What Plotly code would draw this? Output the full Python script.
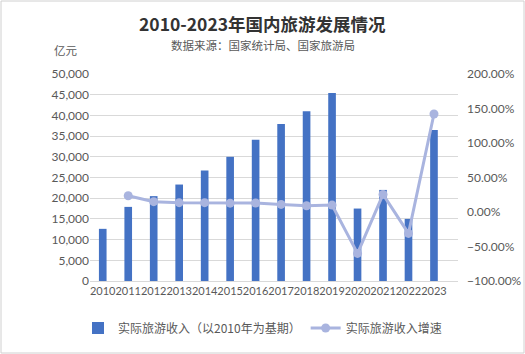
import plotly.graph_objects as go

years = ["2010", "2011", "2012", "2013", "2014", "2015", "2016", "2017", "2018", "2019", "2020", "2021", "2022", "2023"]
income = [12600, 17900, 20500, 23300, 26700, 30000, 34100, 37900, 41000, 45400, 17500, 22000, 15000, 36500]
growth_years = years[1:]
growth = [23.5, 15.0, 13.5, 13.5, 12.8, 13.0, 11.0, 9.0, 10.0, -60.0, 25.5, -31.0, 142.0]

W, H = 525, 354
ML, MR, MT, MB = 90, 67, 74, 73
PW, PH = W - ML - MR, H - MT - MB

font_cn = "Noto Sans CJK SC, Noto Sans, sans-serif"
font_num = "Lato, Open Sans, sans-serif"
gray = "#595959"

fig = go.Figure()
fig.add_trace(go.Bar(
    x=years, y=income, name="实际旅游收入（以2010年为基期）",
    marker=dict(color="#4472C4", line=dict(width=0)),
    yaxis="y",
))
fig.add_trace(go.Scatter(
    x=growth_years, y=growth, name="实际旅游收入增速",
    mode="lines+markers",
    line=dict(color="#A9B4DF", width=3),
    marker=dict(color="#A9B4DF", size=9),
    yaxis="y2",
))

fig.update_layout(
    width=W, height=H,
    margin=dict(l=ML, r=MR, t=MT, b=MB, autoexpand=False),
    paper_bgcolor="white", plot_bgcolor="white",
    font=dict(family=font_cn, size=11, color=gray),
    bargap=0.7,
    showlegend=True,
    legend=dict(orientation="h", xref="container", yref="paper",
                x=0.5, xanchor="center", y=-(328 - MT - PH) / PH, yanchor="middle",
                font=dict(size=12, color=gray), itemwidth=30),
    xaxis=dict(type="category", showgrid=False, showline=True, linecolor="#D9D9D9",
               ticks="", tickangle=0, automargin=False,
               tickfont=dict(size=11, color=gray, family=font_num)),
    yaxis=dict(range=[0, 50000], dtick=5000, tickformat=",", showgrid=True,
               gridcolor="#D9D9D9", zeroline=False, ticks="", automargin=False,
               tickfont=dict(size=12, color=gray, family=font_num)),
    yaxis2=dict(range=[-100, 200], dtick=50, overlaying="y", side="right",
                tickformat=".2f", ticksuffix="%", showgrid=False, zeroline=False,
                automargin=False, ticklabelstandoff=8,
                tickfont=dict(size=12, color=gray, family=font_num)),
    annotations=[
        dict(text="<b>2010-2023年国内旅游发展情况</b>", x=(W / 2 - ML) / PW, y=1 + (MT - 23) / PH,
             xref="paper", yref="paper", showarrow=False, xanchor="center", yanchor="middle",
             font=dict(size=17.5, color="#333333", family=font_cn)),
        dict(text="数据来源：国家统计局、国家旅游局", x=(W / 2 - ML) / PW, y=1 + (MT - 45) / PH,
             xref="paper", yref="paper", showarrow=False, xanchor="center", yanchor="middle",
             font=dict(size=11.5, color=gray, family=font_cn)),
        dict(text="亿元", x=(66 - ML) / PW, y=1 + (MT - 50) / PH,
             xref="paper", yref="paper", showarrow=False, xanchor="center", yanchor="middle",
             font=dict(size=11.5, color=gray, family=font_cn)),
    ],
    shapes=[dict(type="rect", xref="paper", yref="paper",
                 x0=(1 - ML) / PW, x1=(W - 1 - ML) / PW,
                 y0=1 + (MT - 1) / PH, y1=-(MB - 1) / PH,
                 line=dict(color="#D0D0D0", width=1), fillcolor="rgba(0,0,0,0)")],
)

fig.write_html("out.html")
